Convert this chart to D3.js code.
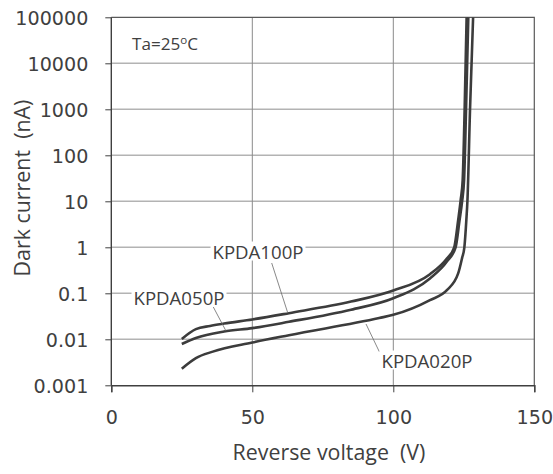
<!DOCTYPE html>
<html>
<head>
<meta charset="utf-8">
<script src="https://cdn.jsdelivr.net/npm/d3@7"></script>
<style>
  body { margin: 0; background: #fff; }
  text { fill: #404040; white-space: pre; }
</style>
</head>
<body>
<svg id="chart" width="553" height="474"></svg>
<script>
// Données (tension inverse en V, courant d'obscurité en nA)
const v100 = [25, 30, 35, 40, 50, 63, 85, 100, 113, 119, 121.6, 123, 123.9, 124.6, 125.3, 126]
const i100 = [0.0102, 0.0166, 0.0195, 0.022, 0.027, 0.037, 0.066, 0.115, 0.26, 0.57, 1, 3.9, 10.7, 29, 1000, 100000]

const v050 = [25, 30, 40, 50, 63, 85, 100, 113, 119, 122.1, 123.5, 124.4, 125.1, 125.8, 126.6]
const i050 = [0.0079, 0.0107, 0.0148, 0.0175, 0.024, 0.044, 0.078, 0.21, 0.49, 1, 3.9, 10, 29, 1000, 100000]

const v020 = [25, 30, 36, 50, 63, 95, 100, 113, 119, 123, 124.4, 125.2, 125.9, 126.3, 127.2, 128.3]
const i020 = [0.0023, 0.0039, 0.0054, 0.0085, 0.0123, 0.029, 0.034, 0.071, 0.117, 0.27, 0.59, 1, 3.9, 10.7, 950, 100000]

const seriesNames = ['KPDA100P', 'KPDA050P', 'KPDA020P']
const xTicks = [0, 50, 100, 150]
const yTicks = [0.001, 0.01, 0.1, 1, 10, 100, 1000, 10000, 100000]
const yTickLabels = ['0.001', '0.01', '0.1', '1', '10', '100', '1000', '10000', '100000']

//Marges de la zone de tracé
const plotLeft = 111.3
const plotRight = 534.3
const plotTop = 17.3
const plotBottom = 385.3

const textFont = '"Open Sans", Lato, sans-serif'
const numFont = '"DejaVu Sans", sans-serif'

const svg = d3.select('#chart')

//Ajuste la taille de police pour obtenir une largeur donnée
function fitSize(family, str, width) {
  const t = svg.append('text').attr('font-family', family).attr('font-size', 20).text(str)
  const w = t.node().getComputedTextLength()
  t.remove()
  return 20 * width / w
}

const tickSize = fitSize(numFont, '100000', 73)
const labelSize = fitSize(textFont, 'KPDA100P', 91)
const titleSize = fitSize(textFont, 'Reverse voltage  (V)', 193)

const x = d3.scaleLinear().domain([0, 150]).range([plotLeft, plotRight])
const y = d3.scaleLog().domain([0.001, 100000]).range([plotBottom, plotTop])

//Grille horizontale
svg.append('g')
  .selectAll('line')
  .data(yTicks.slice(1, -1))
  .enter()
  .append('line')
  .attr('x1', plotLeft).attr('x2', plotRight)
  .attr('y1', d => y(d)).attr('y2', d => y(d))
  .attr('stroke', '#b3b3b3')
  .attr('stroke-width', 1.4)

//Grille verticale
svg.append('g')
  .selectAll('line')
  .data(xTicks.slice(1, -1))
  .enter()
  .append('line')
  .attr('x1', d => x(d)).attr('x2', d => x(d))
  .attr('y1', plotTop).attr('y2', plotBottom)
  .attr('stroke', '#8a8a8a')
  .attr('stroke-width', 1)

//Cadre haut et droit
svg.append('path')
  .attr('d', `M${plotLeft},${plotTop}H${plotRight}V${plotBottom}`)
  .attr('fill', 'none')
  .attr('stroke', '#595959')
  .attr('stroke-width', 1.2)

//Axes
const xAxis = d3.axisBottom(x).tickValues(xTicks).tickSize(7).tickPadding(18)
const yAxis = d3.axisLeft(y).tickValues(yTicks).tickSize(6).tickPadding(17)
  .tickFormat((d, i) => yTickLabels[i])

const gx = svg.append('g').attr('transform', `translate(0,${plotBottom})`).call(xAxis)
const gy = svg.append('g').attr('transform', `translate(${plotLeft},0)`).call(yAxis)

;[gx, gy].forEach(g => {
  g.select('.domain').attr('stroke', '#404040').attr('stroke-width', 1.4)
  g.selectAll('.tick line').attr('stroke', '#404040').attr('stroke-width', 1)
  g.selectAll('.tick text').attr('font-size', tickSize).attr('font-family', numFont).attr('fill', '#404040')
})
gy.select('.domain').attr('d', `M0,${plotBottom}V${plotTop}`)
gy.selectAll('.tick text').attr('dy', '0.36em')

//Courbes
const clip = svg.append('clipPath').attr('id', 'clip')
clip.append('rect').attr('x', plotLeft).attr('y', plotTop).attr('width', plotRight - plotLeft).attr('height', plotBottom - plotTop)

const line = d3.line()
  .x(d => x(d[0]))
  .y(d => y(d[1]))
  .curve(d3.curveMonotoneX)

const curves = [
  d3.zip(v100, i100),
  d3.zip(v050, i050),
  d3.zip(v020, i020)
]

svg.append('g')
  .attr('clip-path', 'url(#clip)')
  .selectAll('path')
  .data(curves)
  .enter()
  .append('path')
  .attr('d', line)
  .attr('fill', 'none')
  .attr('stroke', '#3c3c3c')
  .attr('stroke-width', 2.6)

//Étiquettes des courbes avec trait de rappel
const labels = [
  {name: seriesNames[0], tx: 258, ty: 252, lx1: 271.7, ly1: 263, lx2: 287.7, ly2: 312.7},
  {name: seriesNames[1], tx: 179, ty: 298, lx1: 213.3, ly1: 307, lx2: 226, ly2: 331},
  {name: seriesNames[2], tx: 427, ty: 361, lx1: 366, ly1: 324, lx2: 379.3, ly2: 351.7}
]

labels.forEach(l => {
  svg.append('line')
    .attr('x1', l.lx1).attr('y1', l.ly1)
    .attr('x2', l.lx2).attr('y2', l.ly2)
    .attr('stroke', '#6a6a6a')
    .attr('stroke-width', 0.8)
  const t = svg.append('text')
    .attr('x', l.tx).attr('y', l.ty)
    .attr('dy', '0.35em')
    .attr('text-anchor', 'middle')
    .attr('font-family', textFont)
    .attr('font-size', labelSize)
    .text(l.name)
  const bb = t.node().getBBox()
  svg.insert('rect', () => t.node())
    .attr('x', bb.x - 2).attr('y', bb.y + 3)
    .attr('width', bb.width + 4).attr('height', bb.height - 6)
    .attr('fill', '#fff')
})

//Température ambiante
const ta = svg.append('text')
  .attr('x', 132).attr('y', 50)
  .attr('font-family', textFont)
  .attr('font-size', labelSize * 0.92)
ta.append('tspan').text('Ta=25')
ta.append('tspan').text('o').attr('font-size', labelSize * 0.62).attr('dy', -6)
ta.append('tspan').text('C').attr('dy', 6)

//Titres des axes
svg.append('text')
  .attr('x', 329).attr('y', 453)
  .attr('dy', '0.35em')
  .attr('text-anchor', 'middle')
  .attr('font-family', textFont)
  .attr('font-size', titleSize)
  .text('Reverse voltage  (V)')

svg.append('text')
  .attr('transform', 'translate(22,188) rotate(-90)')
  .attr('dy', '0.35em')
  .attr('text-anchor', 'middle')
  .attr('font-family', textFont)
  .attr('font-size', titleSize)
  .text('Dark current  (nA)')
</script>
</body>
</html>
